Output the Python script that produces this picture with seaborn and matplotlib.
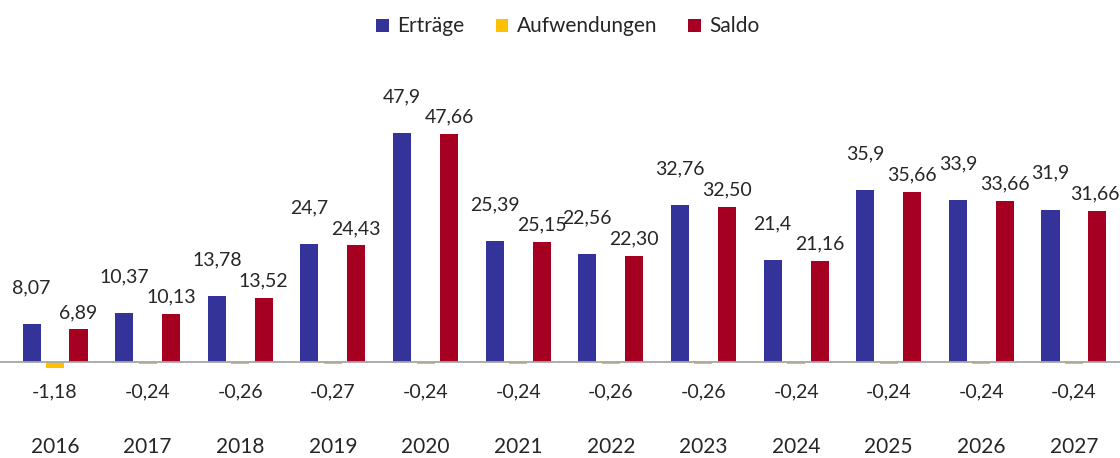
import pandas as pd
import matplotlib.pyplot as plt
import seaborn as sns

# values
years = ["2016", "2017", "2018", "2019", "2020", "2021",
         "2022", "2023", "2024", "2025", "2026", "2027"]
ertraege = [8.07, 10.37, 13.78, 24.7, 47.9, 25.39, 22.56, 32.76, 21.4, 35.9, 33.9, 31.9]
aufwendungen = [-1.18, -0.24, -0.26, -0.27, -0.24, -0.24, -0.26, -0.26, -0.24, -0.24, -0.24, -0.24]
saldo = [6.89, 10.13, 13.52, 24.43, 47.66, 25.15, 22.30, 32.50, 21.16, 35.66, 33.66, 31.66]

series = ["Erträge", "Aufwendungen", "Saldo"]
colors = {"Erträge": "#343399", "Aufwendungen": "#FFC000", "Saldo": "#A50021"}
text_color = "#262626"

df = pd.DataFrame({"Jahr": years * 3,
                   "Serie": [s for s in series for _ in years],
                   "Wert": ertraege + aufwendungen + saldo})

sns.set_style("white")
plt.rcParams["font.family"] = ["Lato", "DejaVu Sans"]

fig = plt.figure(figsize=(11.2, 4.58), dpi=100)
ax = fig.add_axes([0.0, 0.062, 1.0, 0.807])

sns.barplot(data=df, x="Jahr", y="Wert", hue="Serie", hue_order=series,
            palette=colors, width=0.76, gap=0.23, errorbar=None,
            saturation=1, linewidth=0, legend=True, ax=ax)


def de(v, nd=2):
    return f"{v:.{nd}f}".replace(".", ",")


cont_e, cont_a, cont_s = ax.containers
for i, (pe, pa, ps) in enumerate(zip(cont_e.patches, cont_a.patches, cont_s.patches)):
    e, s = ertraege[i], saldo[i]
    # stagger the two labels of a year when they would collide
    pad_e, pad_s = 6, 6
    if abs(e - s) < 4:
        if e >= s:
            pad_e += 14
        else:
            pad_s += 14
    ax.annotate(f"{e:g}".replace(".", ","), (pe.get_x() + pe.get_width() / 2, pe.get_height()),
                xytext=(0, pad_e), textcoords="offset points", ha="center", va="bottom",
                fontsize=14, color=text_color)
    ax.annotate(de(s), (ps.get_x() + ps.get_width() / 2, ps.get_height()),
                xytext=(-2 if i == len(years) - 1 else 0, pad_s), textcoords="offset points",
                ha="center", va="bottom", fontsize=14, color=text_color)
    ax.annotate(de(aufwendungen[i]), (pa.get_x() + pa.get_width() / 2, 0),
                xytext=(0, -15), textcoords="offset points", ha="center", va="top",
                fontsize=14, color=text_color)

# axis line drawn over the very small Aufwendungen bars, like the original
ax.axhline(0, color="#A6A6A6", lw=1.3, zorder=3)
ax.set_xlim(-0.594, 11.497)
ax.set_ylim(-14.0, 63.1)
ax.set_yticks([])
ax.set_xlabel("")
ax.set_ylabel("")
ax.tick_params(axis="x", length=0, pad=5, labelsize=15, labelcolor=text_color)
sns.despine(ax=ax, left=True, bottom=True)

handles, labs = ax.get_legend_handles_labels()
ax.get_legend().remove()
fig.legend(handles, labs, loc="upper center", bbox_to_anchor=(0.507, 1.005), ncol=3,
           frameon=False, fontsize=15, handlelength=0.6, handleheight=0.6,
           handletextpad=0.4, columnspacing=1.5, labelcolor=text_color)

fig.savefig("out.png", dpi=100)
